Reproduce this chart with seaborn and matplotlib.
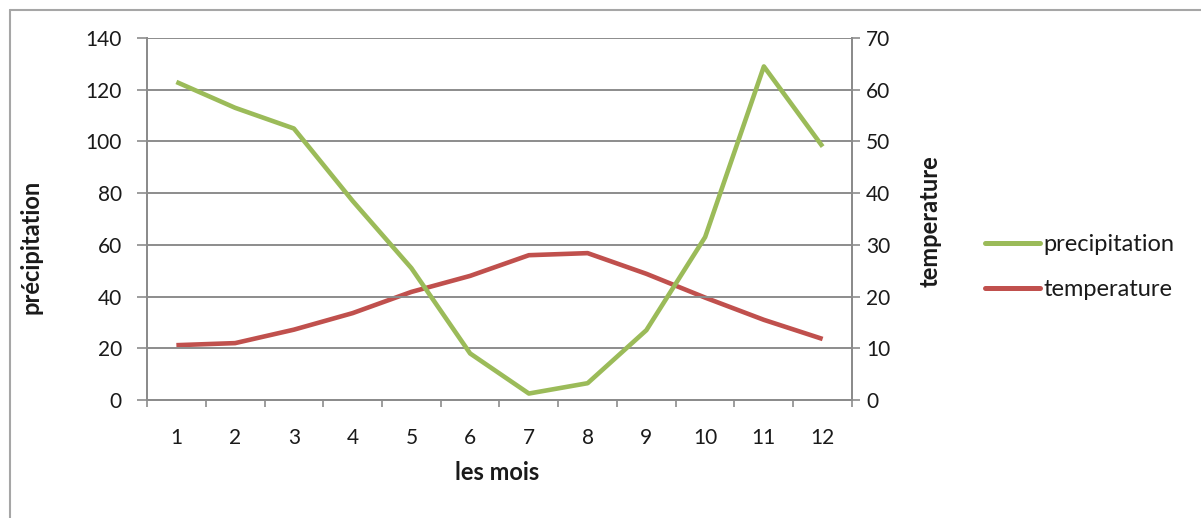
import matplotlib
matplotlib.use("Agg")
import matplotlib.pyplot as plt
from matplotlib.lines import Line2D
from matplotlib.ticker import FixedLocator, NullFormatter, FixedFormatter
import seaborn as sns
import pandas as pd

# monthly data
months = [1, 2, 3, 4, 5, 6, 7, 8, 9, 10, 11, 12]
precipitation = [123, 113, 105, 77, 51, 18, 2.5, 6.5, 27, 63, 129, 98]
temperature = [10.6, 11.0, 13.6, 16.8, 20.9, 24.0, 28.0, 28.4, 24.4, 19.8, 15.5, 11.8]

left_ticks = [0, 20, 40, 60, 80, 100, 120, 140]
right_ticks = [0, 10, 20, 30, 40, 50, 60, 70]

GREEN = "#9BBB59"
RED = "#C0504D"
GRID = "#8C8C8C"
TEXT = "#1a1a1a"

sns.set_theme(style="white")
plt.rcParams["font.family"] = ["Lato", "DejaVu Sans"]

df = pd.DataFrame({"mois": months, "precipitation": precipitation,
                   "temperature": temperature})

W, H = 1201, 518
fig = plt.figure(figsize=(W / 100, H / 100), dpi=100)
ax = fig.add_axes([147 / W, 1 - 400 / H, (852 - 147) / W, (400 - 38) / H])
ax2 = ax.twinx()

lw = 3.3
sns.lineplot(data=df, x="mois", y="precipitation", ax=ax, color=GREEN,
             linewidth=lw, label="precipitation", legend=False,
             solid_capstyle="butt", zorder=3)
sns.lineplot(data=df, x="mois", y="temperature", ax=ax2, color=RED,
             linewidth=lw, label="temperature", legend=False,
             solid_capstyle="butt", zorder=3)

ax.set_xlim(0.5, 12.5)
ax.set_ylim(0, 140)
ax2.set_ylim(0, 70)

# y grid on the primary axis
ax.set_yticks(left_ticks)
ax.set_yticklabels([str(t) for t in left_ticks])
ax.yaxis.grid(True, color=GRID, linewidth=1.4)
ax.xaxis.grid(False)
ax2.set_yticks(right_ticks)
ax2.set_yticklabels([str(t) for t in right_ticks])
ax2.grid(False)

TICK_FS = 15
# category axis: ticks between categories, labels centred on them
ax.xaxis.set_major_locator(FixedLocator([m - 0.5 for m in months] + [12.5]))
ax.xaxis.set_major_formatter(NullFormatter())
ax.xaxis.set_minor_locator(FixedLocator(months))
ax.xaxis.set_minor_formatter(FixedFormatter([str(m) for m in months]))
ax.tick_params(axis="x", which="major", length=5, width=1.2, color=GRID,
               direction="out", bottom=True)
ax.tick_params(axis="x", which="minor", length=0, pad=20, labelsize=TICK_FS,
               labelcolor=TEXT)
ax.tick_params(axis="y", length=7, width=1.2, color=GRID, direction="out",
               left=True, pad=11, labelsize=TICK_FS, labelcolor=TEXT)
ax2.tick_params(axis="y", length=6, width=1.2, color=GRID, direction="out",
                right=True, pad=4, labelsize=TICK_FS, labelcolor=TEXT)

for a in (ax, ax2):
    for side in ("left", "right", "bottom"):
        a.spines[side].set_visible(True)
        a.spines[side].set_color(GRID)
        a.spines[side].set_linewidth(1.4)
    a.spines["top"].set_visible(False)
    a.set_facecolor("none")
ax.set_zorder(ax2.get_zorder() + 1)
ax.patch.set_visible(False)

LABEL_FS = 17
ax.set_xlabel("les mois", fontsize=LABEL_FS, fontweight="bold", color=TEXT)
ax.xaxis.set_label_coords((497 - 147) / 705, (400 - 473) / 362)
ax.xaxis.label.set_va("center")
ax.set_ylabel("précipitation", fontsize=LABEL_FS, fontweight="bold", color=TEXT)
ax.yaxis.set_label_coords((31 - 147) / 705, (400 - 247) / 362)
ax.yaxis.label.set_va("center")
ax2.set_ylabel("temperature", fontsize=LABEL_FS, fontweight="bold", color=TEXT,
               rotation=90)
ax2.yaxis.set_label_coords((930 - 147) / 705, (400 - 221) / 362)
ax2.yaxis.label.set_va("center")
ax2.yaxis.label.set_ha("center")

# legend to the right of the plot
LEG_FS = 17
handles = [Line2D([], [], color=GREEN, linewidth=3.6),
           Line2D([], [], color=RED, linewidth=3.6)]
fig.legend(handles, ["precipitation", "temperature"],
           loc="center left", bbox_to_anchor=(985 / W, 1 - 267 / H),
           frameon=False, fontsize=LEG_FS, handlelength=2.33,
           handletextpad=0.13, labelspacing=1.0, borderpad=0,
           borderaxespad=0, labelcolor=TEXT)

# chart-area border
border = "#A6A6A6"
fig.add_artist(Line2D([10 / W, 1], [1 - 10 / H, 1 - 10 / H],
                      transform=fig.transFigure, color=border, linewidth=1.5))
fig.add_artist(Line2D([10 / W, 10 / W], [0, 1 - 10 / H],
                      transform=fig.transFigure, color=border, linewidth=1.5))

fig.savefig("out.png", dpi=100, facecolor="white")
